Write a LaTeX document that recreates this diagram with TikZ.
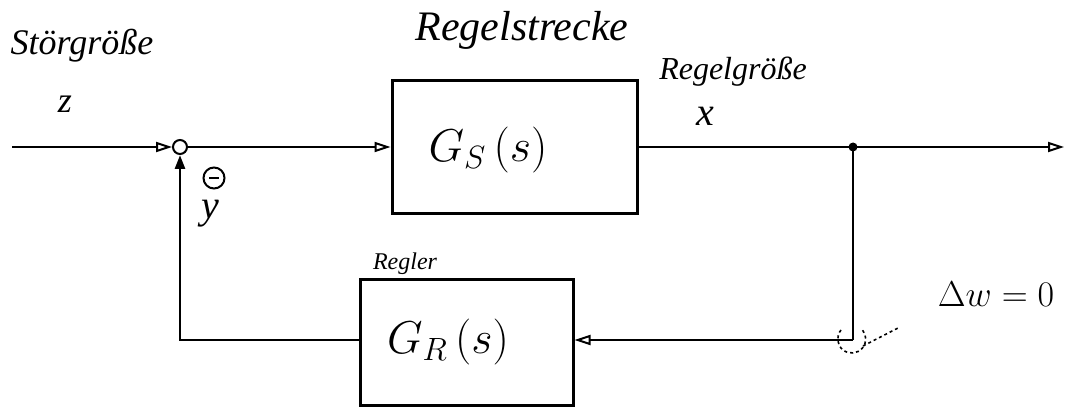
\RequirePackage{fix-cm}
\documentclass[tikz,border=0pt]{standalone}
\usepackage{fontspec}
\setmainfont{Liberation Serif}
\usetikzlibrary{arrows.meta,calc}
\begin{document}
\begin{tikzpicture}[x=1pt,y=-1pt,
  block/.style={draw, line width=3pt, inner sep=0pt},
  sig/.style={line width=2.8pt},
  otip/.style={-{Triangle[open,length=16pt,width=10pt,line width=2pt]}},
  ftip/.style={-{Triangle[length=14pt,width=10pt]}},
  lab/.style={inner sep=0pt},
  big/.style={font=\fontsize{46}{52}\selectfont, inner sep=0pt}]
\useasboundingbox (0,0) rectangle (1079,409);
\node[block, minimum width=245pt, minimum height=133pt] (gs) at (514.5,147) {};
\node[big] (gst) at (488,150) {$G_S\,(s)$};
\node[block, minimum width=213pt, minimum height=126pt] (gr) at (466.5,342) {};
\node[big] (grt) at (448,342) {$G_R\,(s)$};
\node[circle, draw, line width=2pt, minimum size=14pt, inner sep=0pt] (sum) at (180,147) {};
\coordinate (in) at (12,147);
\coordinate (out) at (1064,147);
\coordinate (br) at (853,147);
\coordinate (cr) at (853,340);
\draw[sig, otip] (in) -- (sum.west);
\draw[sig, otip] (sum.east) -- (gs.west);
\draw[sig] (gs.east) -- (br);
\draw[sig, otip] (br) -- (out);
\fill (br) circle (4.5pt);
\draw[sig] (br) -- (cr);
\draw[sig, otip] (cr) -- (gr.east |- cr);
\draw[sig, ftip] (gr.west |- cr) -| (sum.south);
\draw[line width=1.6pt, dashed] (cr) ++(-12,-10) arc (220:-40:14);
\draw[line width=1.6pt, dashed] ($(cr)+(10,6)$) -- +(35,-18);
\node[circle, draw, line width=2pt, minimum size=21pt, inner sep=0pt] (minus) at (214,178) {};
\draw[line width=2pt] ($(minus.center)+(-5,0)$) -- ($(minus.center)+(5,0)$);
\node[lab, font=\itshape\fontsize{36}{40}\selectfont] (stoer) at (82,46) {Störgröße};
\node[lab, font=\itshape\fontsize{36}{40}\selectfont] (z) at (65,104) {z};
\node[lab, font=\itshape\fontsize{40}{44}\selectfont] (y) at (210,214) {y};
\node[lab, font=\itshape\fontsize{42}{46}\selectfont] (strecke) at (522,30) {Regelstrecke};
\node[lab, font=\itshape\fontsize{40}{44}\selectfont] (x) at (705,116) {x};
\node[lab, font=\itshape\fontsize{32}{36}\selectfont] (groesse) at (733,72) {Regelgröße};
\node[lab, font=\itshape\fontsize{24}{28}\selectfont] (regler) at (405,264) {Regler};
\node[lab, font=\fontsize{36}{40}\selectfont] (dw) at (996,294) {$\Delta w = 0$};
\end{tikzpicture}
\end{document}
